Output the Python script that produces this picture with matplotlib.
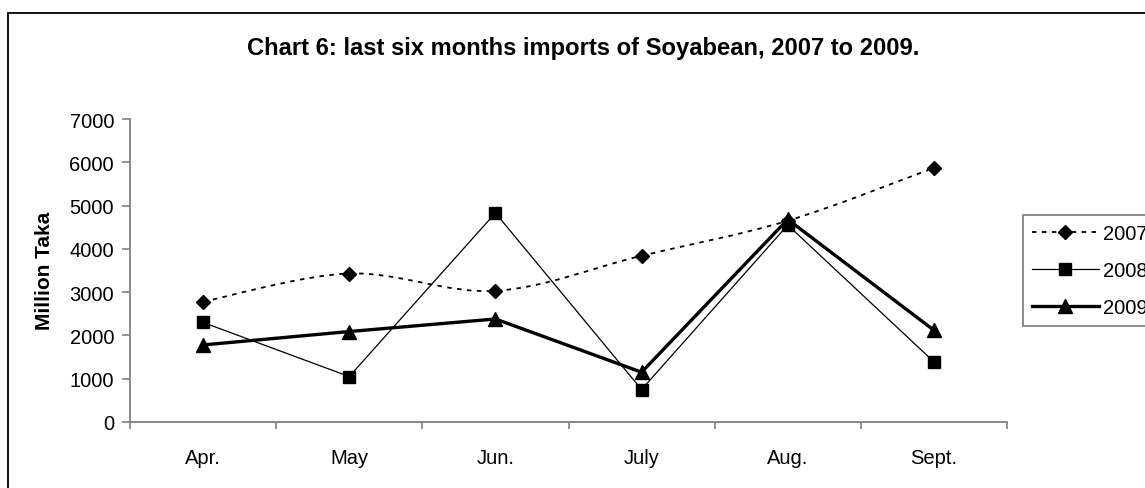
import matplotlib
matplotlib.use("Agg")
import matplotlib.pyplot as plt
from matplotlib.path import Path
from matplotlib.patches import PathPatch, Rectangle
from matplotlib.lines import Line2D
import numpy as np

months = ["Apr.", "May", "Jun.", "July", "Aug.", "Sept."]
y2007 = [2780, 3430, 3030, 3840, 4650, 5870]
y2008 = [2300, 1050, 4830, 750, 4550, 1390]
y2009 = [1780, 2090, 2380, 1150, 4680, 2120]
yticks = [0, 1000, 2000, 3000, 4000, 5000, 6000, 7000]
title = "Chart 6: last six months imports of Soyabean, 2007 to 2009."
ylabel = "Million Taka"
series_names = ["2007", "2008", "2009"]

plt.rcParams['font.family'] = ['Liberation Sans', 'DejaVu Sans']

W, H = 1145, 489
fig = plt.figure(figsize=(W / 100, H / 100), dpi=100)

def px(x, y):
    return x / W, 1 - y / H

# outer frame
fig.patches.append(Rectangle(px(8, 600), (1200 - 8) / W, (600 - 14) / H,
                             transform=fig.transFigure, fill=False,
                             edgecolor='black', linewidth=1.3, zorder=0))

l, b = px(130, 423)
r, t = px(1007, 120)
ax = fig.add_axes([l, b, r - l, t - b])

x = np.arange(len(months))

# 2007 smoothed curve (Bezier through data points)
pts = np.column_stack([x, y2007]).astype(float)
verts = [tuple(pts[0])]
codes = [Path.MOVETO]
n = len(pts)
for i in range(n - 1):
    p0 = pts[i - 1] if i > 0 else pts[i]
    p1 = pts[i]
    p2 = pts[i + 1]
    p3 = pts[i + 2] if i + 2 < n else pts[i + 1]
    c1 = p1 + (p2 - p0) / 6.0
    c2 = p2 - (p3 - p1) / 6.0
    verts += [tuple(c1), tuple(c2), tuple(p2)]
    codes += [Path.CURVE4, Path.CURVE4, Path.CURVE4]
curve = PathPatch(Path(verts, codes), fill=False, edgecolor='black',
                  linewidth=1.3, linestyle=(0, (2.5, 3)), zorder=2)
ax.add_patch(curve)
ax.plot(x, y2007, linestyle='none', marker='D', markersize=7.5,
        color='black', zorder=3)

ax.plot(x, y2008, color='black', linewidth=0.9, marker='s', markersize=8,
        zorder=3)
ax.plot(x, y2009, color='black', linewidth=2.4, marker='^', markersize=9.5,
        zorder=4)

ax.set_xlim(-0.5, len(months) - 0.5)
ax.set_ylim(0, 7000)
ax.set_yticks(yticks)
ax.set_yticklabels([str(v) for v in yticks], fontsize=14.5)
ax.set_xticks(x)
ax.set_xticklabels(months, fontsize=14.5)
ax.set_xticks(np.arange(-0.5, len(months), 1.0), minor=True)
ax.tick_params(axis='x', which='major', length=0, pad=19)
ax.tick_params(axis='x', which='minor', length=5, width=1.2, color='#808080',
               direction='out')
ax.tick_params(axis='y', length=5.5, width=1.2, color='#808080', pad=6,
               direction='out')

for s in ['top', 'right']:
    ax.spines[s].set_visible(False)
for s in ['left', 'bottom']:
    ax.spines[s].set_color('#808080')
    ax.spines[s].set_linewidth(1.3)
ax.set_facecolor('none')

fig.text(*px(583, 48), title, ha='center', va='center', fontsize=17.1,
         fontweight='bold')
fig.text(*px(45, 271), ylabel, ha='center', va='center', rotation=90,
         fontsize=15, fontweight='bold')

handles = [
    Line2D([], [], color='black', linewidth=1.3, linestyle=(0, (2.5, 3)),
           marker='D', markersize=7.5),
    Line2D([], [], color='black', linewidth=0.9, marker='s', markersize=8),
    Line2D([], [], color='black', linewidth=2.4, marker='^', markersize=9.5),
]
leg = fig.legend(handles, series_names, loc='upper left',
                 bbox_to_anchor=px(1023, 216), bbox_transform=fig.transFigure,
                 fontsize=14.5, frameon=True, fancybox=False,
                 edgecolor='#555555', borderpad=0.45, labelspacing=0.9,
                 handlelength=3.3, handletextpad=0.2, borderaxespad=0)
leg.get_frame().set_linewidth(1.2)

fig.savefig("out.png", dpi=100)
